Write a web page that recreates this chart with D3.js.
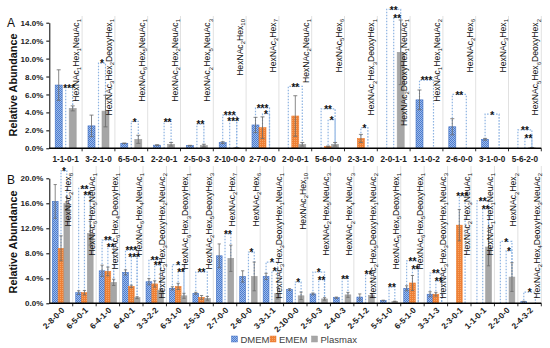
<!DOCTYPE html>
<html><head><meta charset="utf-8">
<script src="https://cdn.jsdelivr.net/npm/d3@7"></script>
<style>body{margin:0;background:#fff} svg{display:block;font-family:"Liberation Sans",Arial,sans-serif}</style>
</head><body><svg id="c" width="550" height="348"></svg>
<script>
// ---------- DATA ----------
const seriesNames = ["DMEM","EMEM","Plasmax"];

// Panel A
const catsA = ["1-1-0-1","3-2-1-0","6-5-0-1","2-2-0-1","2-5-0-3","2-10-0-0","2-7-0-0","2-0-0-1","5-6-0-0","2-3-1-0","2-0-1-1","1-1-0-2","2-6-0-0","3-1-0-0","5-6-2-0"];
const dmemA    = [7.05,2.5,0.56,0.35,0.3,0.63,2.6,0,0,0,0,5.4,2.4,1.0,0];
const dmemErrA = [1.7,1.2,0.03,0.05,0.03,0.1,0.85,0,0,0,0,1.1,0.9,0.1,0];
const ememA    = [0,0,0,0,0,0,2.3,3.6,0.2,1.1,0,0,0,0,0];
const ememErrA = [0,0,0,0,0,0,1.2,2.26,0.05,0.45,0,0,0,0,0];
const plasA    = [4.45,4.15,1.0,0.45,0.3,0.05,0,0.45,0.45,0,10.7,0,0,0,0.05];
const plasErrA = [0.28,1.76,0.45,0.2,0.15,0.02,0,0.2,0.2,0,3.6,0,0,0,0.02];
const ticksA = [0,2,4,6,8,10,12,14];
const sigCatA   = ["1-1-0-1","3-2-1-0","6-5-0-1","2-2-0-1","2-5-0-3","2-10-0-0","2-10-0-0","2-7-0-0","2-7-0-0","2-0-0-1","5-6-0-0","5-6-0-0","2-3-1-0","2-0-1-1","2-0-1-1","1-1-0-2","2-6-0-0","3-1-0-0","5-6-2-0","5-6-2-0"];
const sigTypeA  = ["in","in","in","in","in","out","in","out","in","out","out","in","in","out","in","out","out","out","out","in"];
const sigLevelA = [6.8,9.5,3.0,3.0,2.7,3.7,3.1,4.5,3.85,6.9,4.4,3.2,2.3,15.5,14.6,7.6,6.0,3.8,2.05,1.2];
const sigStarsA = ["***","*","*","**","**","***","***","***","*","**","**","*","*","**","**","***","**","*","**","**"];

// Panel B
const catsB = ["2-8-0-0","6-5-0-1","6-4-1-0","6-4-0-1","3-3-2-2","6-3-1-0","2-5-3-0","2-7-0-0","2-6-0-0","3-3-1-1","2-10-0-0","2-5-0-3","2-4-0-3","2-5-1-2","5-5-1-0","6-5-1-0","3-3-1-3","2-3-0-1","1-1-0-1","2-2-0-0","2-4-3-2"];
const dmemB    = [16.3,1.7,5.2,4.95,3.45,2.4,1.6,7.6,4.3,4.3,2.2,1.5,0.9,1.0,0.45,2.4,1.45,0,0,0,0.27];
const dmemErrB = [2.7,0.3,0.9,0.4,0.5,0.25,0.15,1.9,0.9,0.5,0.15,0.15,0.1,0.5,0.05,0.4,0.4,0,0,0,0.05];
const ememB    = [8.8,1.7,5.1,2.7,3.1,2.7,0.95,0,0,0,0,0,0,0,0,3.25,1.45,12.5,0,0,0];
const ememErrB = [2.0,0.35,0.7,0.2,0.5,0.5,0.3,0,0,0,0,0,0,0,0,1.2,0.3,2.5,0,0,0];
const plasB    = [16.0,11.2,3.35,0.9,2.1,1.2,0.8,7.2,4.3,1.6,1.2,0.7,1.35,1.25,0.3,0,0,0,9.0,4.2,0];
const plasErrB = [1.0,1.9,0.5,0.15,0.2,0.4,0.3,2.1,2.3,0.9,0.6,0.2,0.4,0.3,0.05,0,0,0,3.0,2.3,0];
const ticksB = [0,4,8,12,16,20];
const sigCatB   = ["2-8-0-0","6-5-0-1","6-5-0-1","6-4-1-0","6-4-1-0","6-4-0-1","6-4-0-1","3-3-2-2","3-3-2-2","6-3-1-0","6-3-1-0","2-5-3-0","2-7-0-0","2-6-0-0","3-3-1-1","3-3-1-1","2-10-0-0","2-5-0-3","2-5-0-3","2-4-0-3","2-5-1-2","5-5-1-0","6-5-1-0","6-5-1-0","3-3-1-3","3-3-1-3","2-3-0-1","1-1-0-1","1-1-0-1","2-2-0-0","2-2-0-0","2-4-3-2"];
const sigTypeB  = ["in","out","in","out","in","out","in","out","in","out","in","out","in","in","out","in","in","out","in","in","in","in","out","in","out","in","in","out","in","out","in","out"];
const sigLevelB = [21.2,18.4,17.3,10.1,9.1,8.5,7.5,7.0,6.1,6.2,5.1,5.0,11.1,8.2,6.6,5.2,3.4,5.0,3.8,4.0,4.7,2.6,6.8,5.5,4.85,3.6,17.2,16.4,15.1,9.9,8.4,1.8];
const sigStarsB = ["*","**","**","**","**","***","***","**","**","*","**","**","**","*","*","*","*","*","**","**","**","**","**","**","**","**","***","**","**","*","*","*"];

const monoNames = ["HexNAc","Hex","DeoxyHex","NeuAc"];

// ---------- DRAW ----------
const svg = d3.select("#c");
const defs = svg.append("defs");
const pD = defs.append("pattern").attr("id","pD").attr("patternUnits","userSpaceOnUse").attr("width",2).attr("height",2);
pD.append("rect").attr("width",2).attr("height",2).attr("fill","#9dbcea");
pD.append("rect").attr("width",1).attr("height",1).attr("fill","#4d7bcf");
pD.append("rect").attr("x",1).attr("y",1).attr("width",1).attr("height",1).attr("fill","#4d7bcf");
const pE = defs.append("pattern").attr("id","pE").attr("patternUnits","userSpaceOnUse").attr("width",2).attr("height",2);
pE.append("rect").attr("width",2).attr("height",2).attr("fill","#ee8035");
pE.append("rect").attr("width",1).attr("height",1).attr("fill","#f4a468");
const fills = ["url(#pD)","url(#pE)","#a6a6a6"];
const strokes = ["#4472c4","#ed7d31","#a0a0a0"];

function addComp(t, code){
  const n = code.split("-").map(Number);
  let first = true;
  n.forEach((v,i)=>{
    if(!v) return;
    t.append("tspan").attr("dy", first?0:-2.2).text(monoNames[i]);
    t.append("tspan").attr("dy", 2.2).attr("font-size","6px").text(v);
    first = false;
  });
}

function panel(o){
  const g = svg.append("g");
  const x = d3.scaleBand().domain(o.cats).range([49.3,541.3]).paddingInner(0).paddingOuter(0);
  const x1 = d3.scaleBand().domain(seriesNames).range([0,x.bandwidth()]).paddingInner(0).paddingOuter(o.pad);
  const y = d3.scaleLinear().domain([0,o.max]).range([o.y0,o.yTop]);
  const vals = [o.d,o.e,o.p], errs=[o.de,o.ee,o.pe];

  // separators
  const edges = o.cats.map(c=>x(c)+x.bandwidth());
  g.selectAll(".sep").data(edges).join("line")
    .attr("x1",d=>d).attr("x2",d=>d).attr("y1",o.sepTop).attr("y2",o.y0)
    .attr("stroke","#d9d9d9").attr("stroke-width",0.8);

  // brackets
  const sig = o.sc.map((c,i)=>({c, t:o.st[i], l:o.sl[i], s:o.ss[i]}));
  const cx = (c,k)=>x(c)+x1(seriesNames[k])+x1.bandwidth()/2;
  sig.forEach(b=>{
    const xa = cx(b.c, b.t==="out"?0:1), xb = cx(b.c,2), yy=y(b.l);
    g.append("path").attr("d",`M${xa},${o.y0}V${yy}H${xb}V${o.y0}`)
      .attr("fill","none").attr("stroke","#8db3e2").attr("stroke-width",1.2).attr("stroke-dasharray","1.6,1.4");
  });

  // bars
  seriesNames.forEach((s,k)=>{
    g.selectAll(".b"+k).data(o.cats.map((c,i)=>({c,v:vals[k][i],e:errs[k][i]})).filter(d=>d.v>0)).join("rect")
      .attr("x",d=>x(d.c)+x1(s)).attr("width",x1.bandwidth())
      .attr("y",d=>y(d.v)).attr("height",d=>o.y0-y(d.v))
      .attr("fill",fills[k]).attr("stroke",strokes[k]).attr("stroke-width",0.6);
  });
  // error bars
  seriesNames.forEach((s,k)=>{
    o.cats.forEach((c,i)=>{
      const v=vals[k][i], e=errs[k][i];
      if(!(v>0) || !(e>0)) return;
      const xc = cx(c,k), w=o.cap;
      g.append("path").attr("d",`M${xc},${y(v+e)}V${y(Math.max(0,v-e))}M${xc-w},${y(v+e)}H${xc+w}M${xc-w},${y(Math.max(0,v-e))}H${xc+w}`)
        .attr("stroke","#6b6b6b").attr("stroke-width",0.8).attr("fill","none");
    });
  });

  // composition labels
  o.cats.forEach(c=>{
    const t = g.append("text").attr("transform",`translate(${x(c)+x.bandwidth()-o.lblOff},${o.lblTop}) rotate(-90)`)
      .attr("text-anchor","end").attr("font-size","8.6px").attr("fill","#111");
    addComp(t,c);
  });

  // stars
  sig.forEach(b=>{
    const xa = cx(b.c, b.t==="out"?0:1), xb = cx(b.c,2);
    g.append("text").attr("x",(xa+xb)/2).attr("y",y(b.l)+4.3).attr("text-anchor","middle")
      .attr("font-size","10px").attr("font-weight","bold").attr("fill","#111").text(b.s);
  });

  // y axis
  const ya = g.append("g").attr("transform","translate(49.3,0)")
    .call(d3.axisLeft(y).tickValues(o.ticks).tickFormat(d=>d.toFixed(1)+"%").tickSize(3).tickSizeOuter(0).tickPadding(3));
  ya.select(".domain").attr("stroke","#000").attr("stroke-width",1);
  ya.selectAll(".tick line").attr("stroke","#000");
  ya.selectAll("text").attr("font-size","8px").attr("font-weight","bold").attr("fill","#222").attr("font-family","Liberation Sans, Arial, sans-serif");

  // x axis line + edge ticks
  g.append("line").attr("x1",49.3).attr("x2",541.3).attr("y1",o.y0).attr("y2",o.y0).attr("stroke","#000").attr("stroke-width",1.4);
  g.selectAll(".xt").data(edges).join("line").attr("x1",d=>d).attr("x2",d=>d).attr("y1",o.y0).attr("y2",o.y0+3).attr("stroke","#000").attr("stroke-width",0.8);

  // x labels
  o.cats.forEach(c=>{
    const xc = x(c)+x.bandwidth()/2;
    const t = g.append("text").attr("font-size","8.2px").attr("font-weight","bold").attr("fill","#222").text(c);
    if(o.rot){
      t.attr("text-anchor","end").attr("transform",`translate(${xc+4},${o.y0+7.5}) rotate(-45)`);
    } else {
      t.attr("text-anchor","middle").attr("x",xc).attr("y",o.y0+14);
    }
  });

  // y title
  g.append("text").attr("transform",`translate(17,${o.titleY}) rotate(-90)`).attr("text-anchor","middle")
    .attr("font-size","10.8px").attr("font-weight","bold").attr("fill","#111").text("Relative Abundance");
  g.append("text").attr("x",7).attr("y",o.letterY).attr("font-size","12px").attr("fill","#111").text(o.letter);
}

panel({cats:catsA,d:dmemA,de:dmemErrA,e:ememA,ee:ememErrA,p:plasA,pe:plasErrA,
  sc:sigCatA,st:sigTypeA,sl:sigLevelA,ss:sigStarsA,ticks:ticksA,max:14,y0:148.3,yTop:22.7,
  pad:0.843,cap:2,sepTop:16,lblTop:19,lblOff:3,rot:false,titleY:85,letterY:26.5,letter:"A"});
panel({cats:catsB,d:dmemB,de:dmemErrB,e:ememB,ee:ememErrB,p:plasB,pe:plasErrB,
  sc:sigCatB,st:sigTypeB,sl:sigLevelB,ss:sigStarsB,ticks:ticksB,max:20,y0:303.3,yTop:178.3,
  pad:0.52,cap:1.6,sepTop:166,lblTop:173,lblOff:1.5,rot:true,titleY:242,letterY:183.5,letter:"B"});

// legend
const lg = svg.append("g");
const lx = [231.5,270,311.5];
seriesNames.forEach((s,k)=>{
  lg.append("rect").attr("x",lx[k]).attr("y",336).attr("width",6).attr("height",6).attr("fill",fills[k]).attr("stroke",strokes[k]).attr("stroke-width",0.5);
  lg.append("text").attr("x",lx[k]+9).attr("y",342.5).attr("font-size","9.5px").attr("fill","#404040").text(s);
});
</script></body></html>
